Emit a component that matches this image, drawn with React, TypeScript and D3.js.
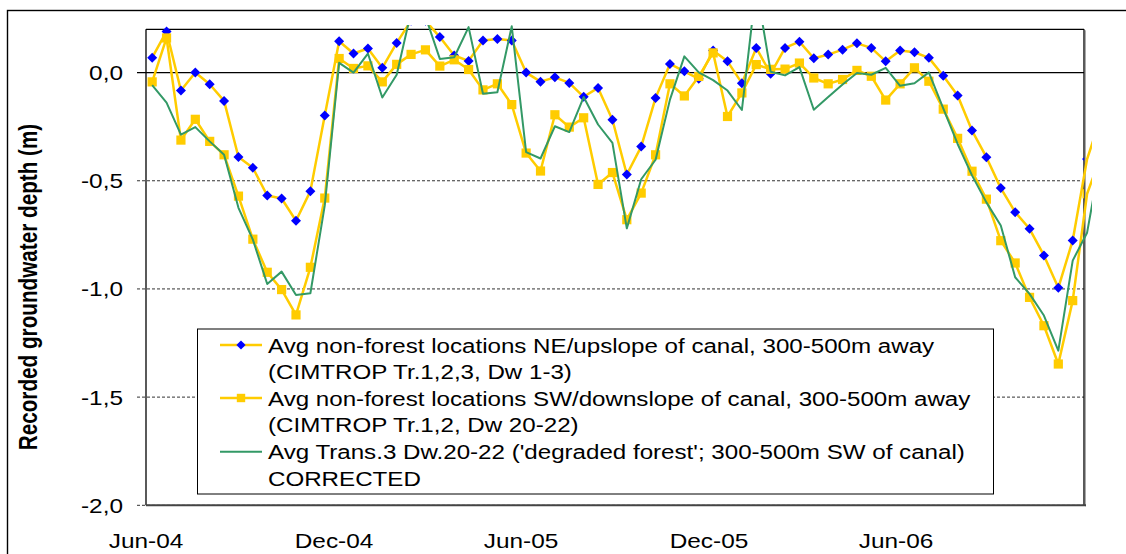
import React from 'react';
import * as d3 from 'd3';

// biweekly sampling dates
const sampleDates = [
  '2004-06-07', '2004-06-21', '2004-07-05', '2004-07-19', '2004-08-02', '2004-08-16', '2004-08-30',
  '2004-09-13', '2004-09-27', '2004-10-11', '2004-10-25', '2004-11-08', '2004-11-22', '2004-12-06',
  '2004-12-20', '2005-01-03', '2005-01-17', '2005-01-31', '2005-02-14', '2005-02-28', '2005-03-14',
  '2005-03-28', '2005-04-11', '2005-04-25', '2005-05-09', '2005-05-23', '2005-06-06', '2005-06-20',
  '2005-07-04', '2005-07-18', '2005-08-01', '2005-08-15', '2005-08-29', '2005-09-12', '2005-09-26',
  '2005-10-10', '2005-10-24', '2005-11-07', '2005-11-21', '2005-12-05', '2005-12-19', '2006-01-02',
  '2006-01-16', '2006-01-30', '2006-02-13', '2006-02-27', '2006-03-13', '2006-03-27', '2006-04-10',
  '2006-04-24', '2006-05-08', '2006-05-22', '2006-06-05', '2006-06-19', '2006-07-03', '2006-07-17',
  '2006-07-31', '2006-08-14', '2006-08-28', '2006-09-11', '2006-09-25', '2006-10-09', '2006-10-23',
  '2006-11-06', '2006-11-20', '2006-12-04', '2006-12-18',
];

// Avg non-forest NE/upslope (blue diamonds)
const neUpslope = [
  0.069, 0.19, -0.083, 0.0, -0.054, -0.131, -0.39, -0.44, -0.568, -0.582, -0.685, -0.548, -0.198,
  0.145, 0.088, 0.111, 0.022, 0.137, 0.24, 0.24, 0.164, 0.079, 0.054, 0.148, 0.155, 0.148,
  0.0, -0.042, -0.022, -0.048, -0.112, -0.071, -0.218, -0.471, -0.342, -0.117, 0.04, 0.006, -0.029,
  0.102, 0.052, -0.049, 0.114, -0.006, 0.114, 0.143, 0.066, 0.083, 0.106, 0.135, 0.114, 0.052,
  0.102, 0.094, 0.068, -0.015, -0.106, -0.268, -0.391, -0.534, -0.645, -0.722, -0.845, -0.995,
  -0.776, -0.4, -0.2,
];

// Avg non-forest SW/downslope (yellow squares)
const swDownslope = [
  -0.043, 0.16, -0.312, -0.216, -0.318, -0.38, -0.571, -0.77, -0.923, -1.003, -1.12, -0.9, -0.58,
  0.065, 0.019, 0.031, -0.043, 0.038, 0.084, 0.105, 0.03, 0.059, 0.014, -0.08, -0.052, -0.148,
  -0.372, -0.455, -0.195, -0.252, -0.209, -0.517, -0.462, -0.68, -0.557, -0.38, -0.052, -0.108,
  -0.018, 0.091, -0.203, -0.094, 0.037, 0.015, 0.016, 0.044, -0.025, -0.052, -0.032, 0.01,
  -0.017, -0.127, -0.052, 0.022, -0.04, -0.169, -0.304, -0.456, -0.585, -0.777, -0.88, -1.039,
  -1.17, -1.347, -1.054, -0.56, -0.38,
];

// Avg Trans.3 Dw.20-22 corrected (green line)
const trans3Corrected = [
  -0.058, -0.139, -0.287, -0.252, -0.318, -0.38, -0.625, -0.772, -0.977, -0.92, -1.028, -1.02,
  -0.614, 0.045, 0.0, 0.088, -0.115, -0.01, 0.28, 0.26, 0.063, 0.071, 0.21, -0.098, -0.091, 0.214,
  -0.368, -0.397, -0.248, -0.275, -0.113, -0.24, -0.325, -0.72, -0.493, -0.403, -0.125, 0.075,
  0.001, -0.035, -0.083, -0.173, 0.4, 0.004, -0.013, 0.025, -0.172, -0.113, -0.055, -0.002, -0.01,
  0.022, -0.061, -0.049, 0.001, -0.165, -0.33, -0.475, -0.6, -0.707, -0.946, -1.023, -1.123,
  -1.285, -0.869, -0.74, -0.37,
];

const yTicks = [0, -0.5, -1, -1.5, -2];
const xTicks = ['2004-06-01', '2004-12-01', '2005-06-01', '2005-12-01', '2006-06-01'];
const legendLines = [
  ['Avg non-forest locations NE/upslope of canal, 300-500m away', '(CIMTROP Tr.1,2,3, Dw 1-3)'],
  ['Avg non-forest locations SW/downslope of canal, 300-500m away', '(CIMTROP Tr.1,2, Dw 20-22)'],
  ["Avg Trans.3 Dw.20-22 ('degraded forest'; 300-500m SW of canal)", 'CORRECTED'],
];
const yTitle = 'Recorded groundwater depth (m)';

const W = 1126;
const H = 554;
const plot = { left: 146, top: 29.3, right: 1084, bottom: 505.3 };
const FONT = '"Liberation Sans", Arial, sans-serif';
const SX = 1.22; // the original is stretched sideways

const YELLOW = '#FFCC00';
const BLUE = '#0000FF';
const GREEN = '#339966';

const locale = d3.formatLocale({ decimal: ',', thousands: '.', grouping: [3], currency: ['', ''], minus: '-' });
const fmtY = locale.format('.1f');

const diamond = (r: number) => `M0,${-r}L${r},0L0,${r}L${-r},0Z`;

export default function App() {
  const parse = d3.timeParse('%Y-%m-%d');
  const dates = sampleDates.map((s) => parse(s) as Date);

  const x = d3.scaleTime()
    .domain([parse('2004-06-01') as Date, parse('2006-12-01') as Date])
    .range([plot.left, plot.right]);
  const y = d3.scaleLinear().domain([-2, 0.2]).range([plot.bottom, plot.top]);

  const line = d3.line<number>()
    .x((_, i) => x(dates[i]))
    .y((d) => y(d));

  const fmtX = d3.timeFormat('%b-%y');

  const legendX = 197.5;
  const legendY = 329;
  const rowY = [345, 398, 451.7];

  return (
    <svg width={W} height={H} style={{ position: 'absolute', left: 0, top: 0, background: '#fff' }}
      fontFamily={FONT}>
      <defs>
        <clipPath id="lineClip">
          <rect x={plot.left} y={25} width={1092 - plot.left} height={plot.bottom - 25 + 40} />
        </clipPath>
        <clipPath id="markClip">
          <rect x={plot.left - 6} y={25} width={plot.right - plot.left + 6} height={plot.bottom - 25 + 40} />
        </clipPath>
      </defs>

      {/* chart area frame */}
      <rect x={7.5} y={10.5} width={1200} height={600} fill="#fff" stroke="#000" strokeWidth={1.4} />

      {/* gridlines */}
      {yTicks.map((t) => (
        <line key={t} x1={plot.left - 9} x2={plot.right} y1={y(t)} y2={y(t)}
          stroke={t === 0 ? '#000' : '#333'} strokeWidth={t === 0 ? 1.3 : 1}
          strokeDasharray={t === 0 ? undefined : '3,2'} />
      ))}

      {/* plot border */}
      <line x1={plot.left} x2={plot.left} y1={plot.top} y2={plot.bottom} stroke="#000" strokeWidth={1.3} />
      <line x1={plot.left} x2={plot.right} y1={plot.top} y2={plot.top} stroke="#000" strokeWidth={1.3} />
      <line x1={plot.right} x2={plot.right} y1={plot.top} y2={plot.bottom} stroke="#000" strokeWidth={1.3} />
      <line x1={plot.right + 1.5} x2={plot.right + 1.5} y1={plot.top + 1} y2={plot.bottom + 1} stroke="#aaa" strokeWidth={1} />
      <line x1={plot.left} x2={plot.right + 2} y1={plot.bottom} y2={plot.bottom} stroke="#444" strokeWidth={2} />

      {/* y tick labels */}
      {yTicks.map((t) => (
        <text key={t} transform={`translate(123,${y(t) + 7.5}) scale(${SX},1)`} textAnchor="end"
          fontSize={20} fill="#000">{fmtY(t)}</text>
      ))}

      {/* x tick labels */}
      {xTicks.map((s) => {
        const d = parse(s) as Date;
        return (
          <text key={s} transform={`translate(${x(d)},${548}) scale(${SX},1)`} textAnchor="middle"
            fontSize={20} fill="#000">{fmtX(d)}</text>
        );
      })}

      {/* y axis title */}
      <text transform={`translate(37,287) scale(${SX},1) rotate(-90)`} textAnchor="middle"
        fontSize={20.7} fontWeight="bold" fill="#000">{yTitle}</text>

      {/* series */}
      <g clipPath="url(#lineClip)">
        <path d={line(neUpslope) || ''} fill="none" stroke={YELLOW} strokeWidth={2.5} strokeLinejoin="round" />
      </g>
      <g clipPath="url(#markClip)">
        {neUpslope.map((v, i) => (
          <path key={i} d={diamond(5)} transform={`translate(${x(dates[i])},${y(v)})`} fill={BLUE} />
        ))}
      </g>
      <g clipPath="url(#lineClip)">
        <path d={line(swDownslope) || ''} fill="none" stroke={YELLOW} strokeWidth={2.5} strokeLinejoin="round" />
      </g>
      <g clipPath="url(#markClip)">
        {swDownslope.map((v, i) => (
          <rect key={i} x={x(dates[i]) - 4.6} y={y(v) - 4.6} width={9.2} height={9.2} fill={YELLOW} />
        ))}
      </g>
      <g clipPath="url(#lineClip)">
        <path d={line(trans3Corrected) || ''} fill="none" stroke={GREEN} strokeWidth={2} strokeLinejoin="round" />
      </g>

      {/* legend */}
      <rect x={legendX} y={legendY} width={796} height={165} fill="#fff" stroke="#000" strokeWidth={1} />
      <line x1={220} x2={262} y1={rowY[0]} y2={rowY[0]} stroke={YELLOW} strokeWidth={2.5} />
      <path d={diamond(4.6)} transform={`translate(241,${rowY[0]})`} fill={BLUE} />
      <line x1={220} x2={262} y1={rowY[1]} y2={rowY[1]} stroke={YELLOW} strokeWidth={2.5} />
      <rect x={241 - 4.2} y={rowY[1] - 4.2} width={8.4} height={8.4} fill={YELLOW} />
      <line x1={220} x2={262} y1={rowY[2]} y2={rowY[2]} stroke={GREEN} strokeWidth={2} />
      {legendLines.map((pair, k) => pair.map((txt, j) => (
        <text key={`${k}-${j}`} transform={`translate(268,${rowY[k] + 7.5 + j * 26.5}) scale(1.15,1)`}
          fontSize={21} fill="#000">{txt}</text>
      )))}
    </svg>
  );
}
